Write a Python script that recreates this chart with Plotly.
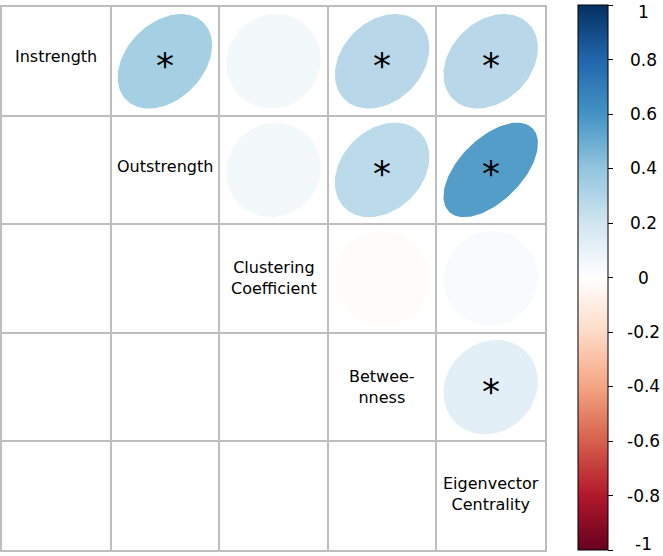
import numpy as np
import plotly.graph_objects as go
from plotly.colors import sample_colorscale

# ---- data ----
variables = ["Instrength", "Outstrength", "Clustering<br>Coefficient",
             "Betwee-<br>nness", "Eigenvector<br>Centrality"]
pair_row = [0, 0, 0, 0, 1, 1, 1, 2, 2, 3]
pair_col = [1, 2, 3, 4, 2, 3, 4, 3, 4, 4]
pair_r = [0.34, 0.05, 0.28, 0.28, 0.05, 0.27, 0.56, -0.02, 0.03, 0.12]
pair_sig = [True, False, True, True, False, True, True, False, False, True]
cbar_ticks = [1, 0.8, 0.6, 0.4, 0.2, 0, -0.2, -0.4, -0.6, -0.8, -1]

palette = ["#67001F", "#B2182B", "#D6604D", "#F4A582", "#FDDBC7", "#FFFFFF",
           "#D1E5F0", "#92C5DE", "#4393C3", "#2166AC", "#053061"]
cscale = [[i / (len(palette) - 1), c] for i, c in enumerate(palette)]

n = len(variables)
scale = 0.87
fig = go.Figure()

k = np.linspace(0, 2 * np.pi, 120)
for i, j, r in zip(pair_row, pair_col, pair_r):
    d = np.arccos(r)
    dx = scale * np.cos(k + d / 2) / 2
    dy = scale * np.cos(k - d / 2) / 2
    col = sample_colorscale(cscale, [(r + 1) / 2])[0]
    fig.add_trace(go.Scatter(x=j + 0.5 + dx, y=i + 0.5 - dy, mode="lines",
                             fill="toself", fillcolor=col,
                             line=dict(width=0, color=col),
                             hoverinfo="skip", showlegend=False))

# geometry of plot area / colorbar (pixels)
plot_l, plot_t, plot_w, plot_h = 2, 7, 543, 543
cb_left, cb_top, cb_len = 578, 5, 545
lab_x = 643


def py_to_paper(py):
    return (plot_t + plot_h - py) / plot_h


cmin, cmax = -1.0, 1.0
fig.add_trace(go.Scatter(
    x=[0.5, 0.5], y=[4.5, 4.5], mode="markers", showlegend=False, hoverinfo="skip",
    marker=dict(size=1, opacity=0, color=[cmin, cmax], cmin=cmin, cmax=cmax,
                colorscale=cscale, showscale=True,
                colorbar=dict(x=(cb_left - plot_l) / plot_w, xanchor="left", xpad=0, ypad=0,
                              y=py_to_paper(cb_top + cb_len / 2), yanchor="middle",
                              lenmode="pixels", len=cb_len, thickness=30,
                              thicknessmode="pixels",
                              outlinecolor="black", outlinewidth=1,
                              ticks="outside", ticklen=5, tickcolor="black",
                              tickvals=[-0.99999, -0.8, -0.6, -0.4, -0.2, 0, 0.2, 0.4, 0.6, 0.8, 0.99999],
                              showticklabels=False))))

annotations = []
label_shift = [5, 3, 1, 0, 2]
for idx, name in enumerate(variables):
    annotations.append(dict(x=idx + 0.5, y=idx + 0.5, text=name, showarrow=False,
                            xref="x", yref="y", yshift=label_shift[idx],
                            font=dict(family="DejaVu Sans", size=16, color="black")))
for i, j, s in zip(pair_row, pair_col, pair_sig):
    if s:
        annotations.append(dict(x=j + 0.5, y=i + 0.5, text="*", showarrow=False,
                                xref="x", yref="y", yshift=-4,
                                font=dict(family="DejaVu Sans", size=36, color="black")))
for t in cbar_ticks:
    py = cb_top + (cmax - t) / (cmax - cmin) * cb_len
    anchor = "middle"
    if t == cmax:
        py, anchor = 0, "top"
    elif t == cmin:
        py, anchor = 556, "bottom"
    annotations.append(dict(x=(lab_x - plot_l) / plot_w, y=py_to_paper(py),
                            xref="paper", yref="paper", text=f"{t:g}", showarrow=False,
                            xanchor="center", yanchor=anchor,
                            font=dict(family="DejaVu Sans", size=17, color="black")))

axis_common = dict(range=[0, n], tickvals=list(range(n + 1)), showticklabels=False,
                   ticks="", showgrid=True, gridcolor="#BEBEBE", gridwidth=2,
                   zeroline=False, showline=True, linecolor="#BEBEBE", linewidth=2,
                   mirror=True, fixedrange=True)
fig.update_layout(
    width=663, height=556,
    margin=dict(l=plot_l, r=663 - plot_l - plot_w, t=plot_t, b=556 - plot_t - plot_h,
                autoexpand=False),
    plot_bgcolor="white", paper_bgcolor="white",
    xaxis=axis_common,
    yaxis=dict(axis_common, range=[n, 0]),
    annotations=annotations,
)
fig.write_html("out.html", config={"displayModeBar": False},
               post_script="document.body.style.margin='0px';")
